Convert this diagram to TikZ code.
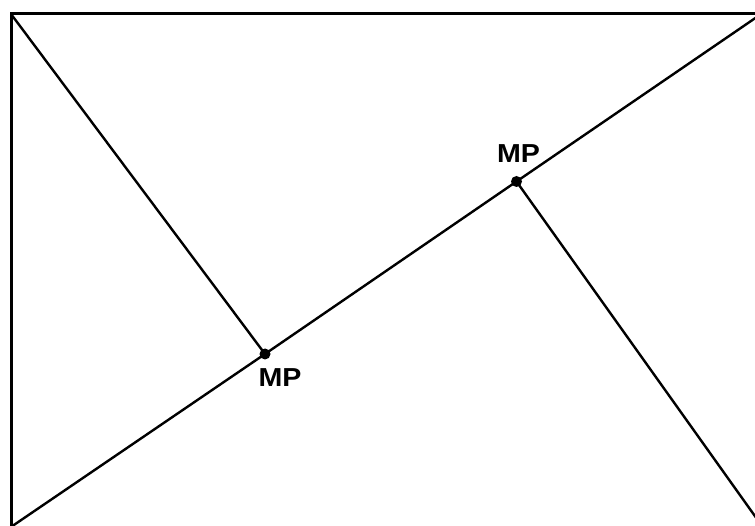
\documentclass[tikz,border=0pt]{standalone}
\usepackage{fontspec}
\setmainfont{Liberation Sans}
\begin{document}
\begin{tikzpicture}[x=1pt,y=-1pt,
  edge/.style={line width=2.4pt, line cap=round},
  frame/.style={line width=3pt},
  mpdot/.style={circle, fill=black, inner sep=0pt, minimum size=11pt},
  mplabel/.style={font=\bfseries\fontsize{26}{26}\selectfont, xscale=1.1, inner sep=0pt, anchor=center}]
\useasboundingbox (0,0) rectangle (755,526);
\clip (0,0) rectangle (755,526);
\fill[white] (0,0) rectangle (755,526);
\coordinate (tl) at (11,14);
\coordinate (bl) at (11,535);
\coordinate (tr) at (770,14);
\coordinate (dstart) at (8,529);
\coordinate (dend) at (770,8);
\coordinate (rend) at (762,526);
\node[mpdot] (mp1) at (265,354) {};
\node[mpdot] (mp2) at (516.5,181.5) {};
\node[mplabel] (l1) at (280,377.5) {MP};
\node[mplabel] (l2) at (518.5,153.5) {MP};
\draw[frame] (bl) -- (tl) -- (tr);
\draw[edge] (dstart) -- (mp1.center) -- (mp2.center) -- (dend);
\draw[edge] (tl) -- (mp1.center);
\draw[edge] (mp2.center) -- (rend);
\end{tikzpicture}
\end{document}
